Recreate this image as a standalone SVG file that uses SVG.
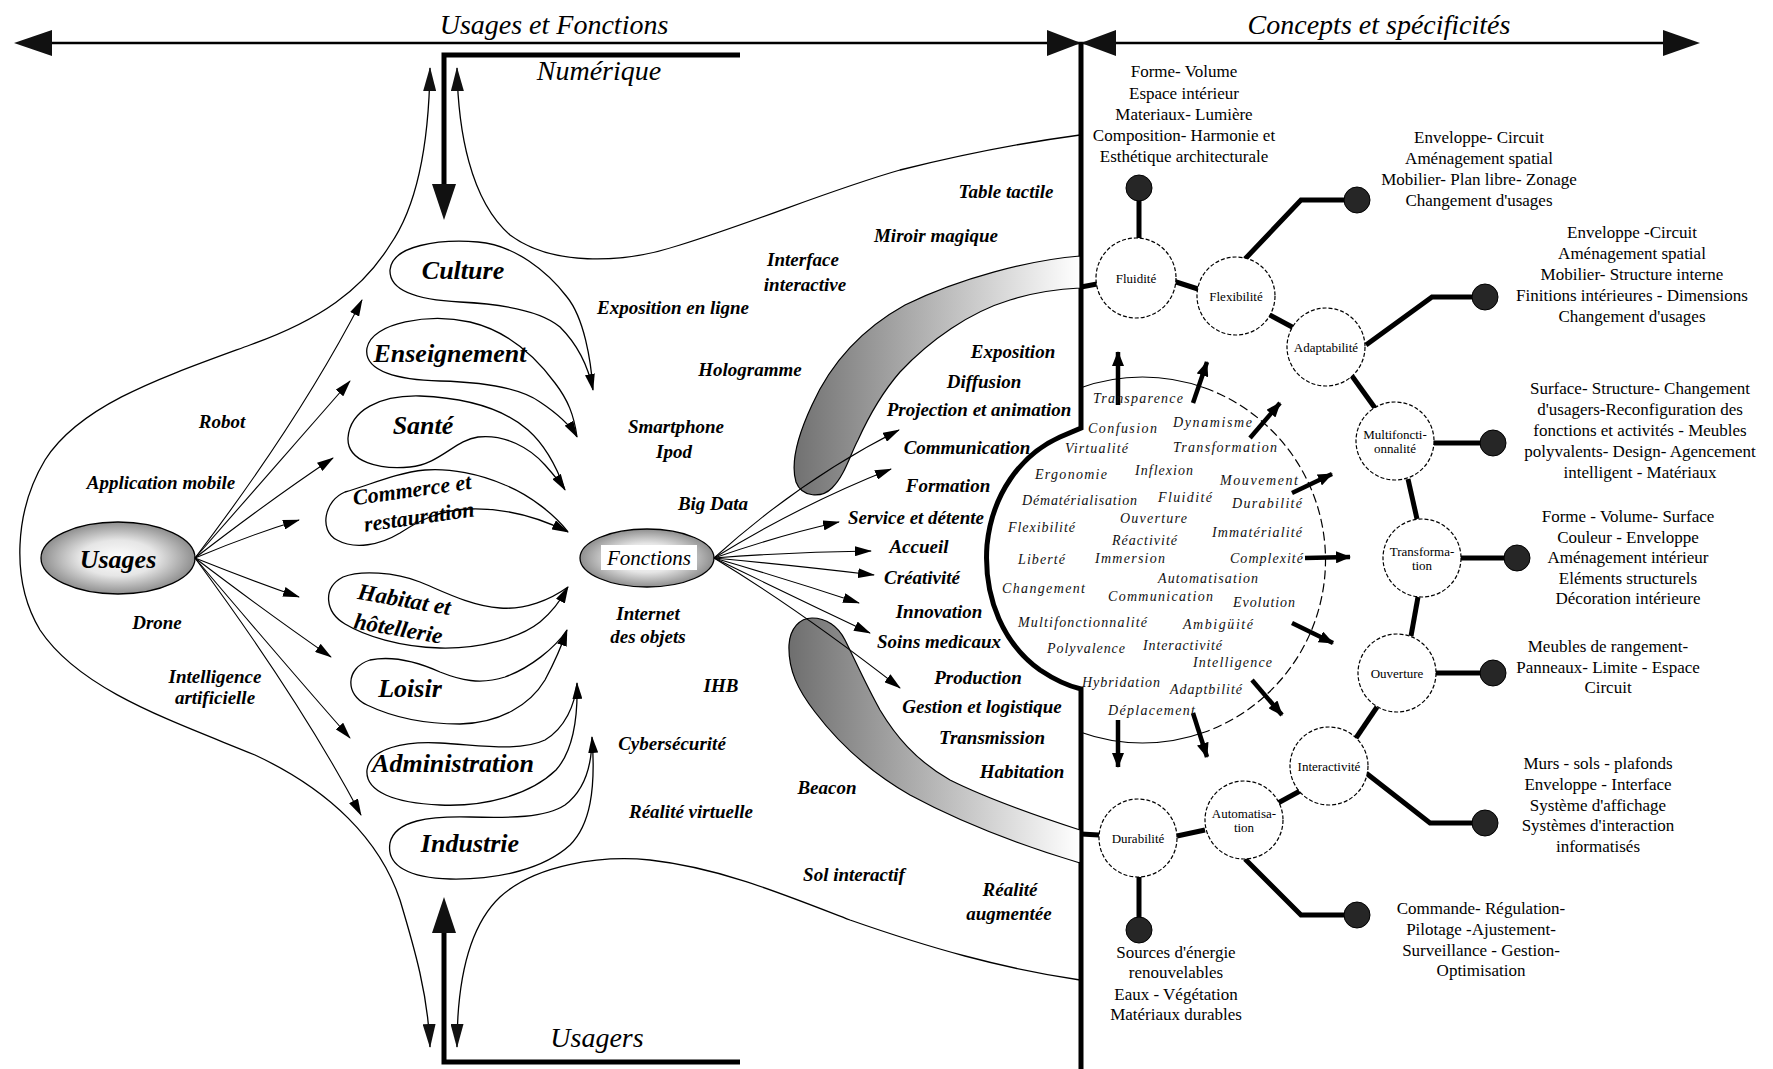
<svg xmlns="http://www.w3.org/2000/svg" width="1773" height="1069" viewBox="0 0 1773 1069">
  <defs>
    <style>
      text { font-family: "Liberation Serif", "Times New Roman", serif; fill: #000; }
      .hd { font-style: italic; font-size: 28px; }
      .sec { font-style: italic; font-weight: bold; font-size: 26px; text-anchor: middle; }
      .lb { font-style: italic; font-weight: bold; font-size: 19px; text-anchor: middle; }
      .fn { font-style: italic; font-weight: bold; font-size: 19px; text-anchor: middle; }
      .iw { font-style: italic; font-size: 14px; fill: #111; }
      .cl { font-size: 13px; text-anchor: middle; }
      .bk { font-size: 17px; text-anchor: middle; }
      .thin { fill: none; stroke: #000; stroke-width: 1.3; }
      .loop { fill: none; stroke: #000; stroke-width: 1.3; marker-end: url(#ah); }
      .fan { fill: none; stroke: #000; stroke-width: 1.1; marker-end: url(#ah); }
      .thick { fill: none; stroke: #000; stroke-width: 5; }
      .tarr { fill: none; stroke: #000; stroke-width: 4.5; marker-end: url(#aht); }
      .node { fill: #fff; stroke: #000; stroke-width: 1.2; stroke-dasharray: 4 2; }
      .dot { fill: #262626; stroke: #000; stroke-width: 1; }
    </style>
    <marker id="ah" markerUnits="userSpaceOnUse" markerWidth="17" markerHeight="10" viewBox="0 0 17 10" refX="16" refY="5" orient="auto">
      <path d="M0,0 L17,5 L0,10 Z" fill="#000"/>
    </marker>
    <marker id="ahl" markerUnits="userSpaceOnUse" markerWidth="24" markerHeight="13" viewBox="0 0 24 13" refX="23" refY="6.5" orient="auto-start-reverse">
      <path d="M0,0 L24,6.5 L0,13 Z" fill="#111"/>
    </marker>
    <marker id="aht" markerUnits="userSpaceOnUse" markerWidth="15" markerHeight="12" viewBox="0 0 15 12" refX="14" refY="6" orient="auto">
      <path d="M0,0 L15,6 L0,12 Z" fill="#000"/>
    </marker>
    <radialGradient id="egg" cx="50%" cy="50%" r="55%">
      <stop offset="0" stop-color="#ffffff"/>
      <stop offset="0.45" stop-color="#e6e6e6"/>
      <stop offset="1" stop-color="#7d7d7d"/>
    </radialGradient>
    <linearGradient id="band" gradientUnits="userSpaceOnUse" x1="790" y1="0" x2="1080" y2="0">
      <stop offset="0" stop-color="#6f6f6f"/>
      <stop offset="1" stop-color="#ffffff"/>
    </linearGradient>
    <radialGradient id="dotg" cx="40%" cy="35%" r="65%">
      <stop offset="0" stop-color="#555"/>
      <stop offset="1" stop-color="#111"/>
    </radialGradient>
  </defs>

  <rect width="1773" height="1069" fill="#fff"/>

  <!-- axes and brackets -->
  <g id="axes">
    <line x1="40" y1="43" x2="1675" y2="43" stroke="#000" stroke-width="2.5"/>
    <polygon points="14,43 52,30 52,56" fill="#111"/>
    <polygon points="1700,43 1663,30 1663,56" fill="#111"/>
    <polygon points="1081,43 1047,30 1047,56" fill="#111"/>
    <polygon points="1081,43 1116,30 1116,56" fill="#111"/>
    <text class="hd" x="554" y="34" text-anchor="middle">Usages et Fonctions</text>
    <text class="hd" x="1379" y="34" text-anchor="middle">Concepts et spécificités</text>
    <path d="M1081,43 V428 L1060,437 C1020,455 992,495 987,545 C983,600 1005,645 1040,670 C1055,680 1068,686 1081,689 V1069" fill="none" stroke="#000" stroke-width="5"/>
  </g>

  <g id="numerique">
    <polyline points="740,55 444,55 444,190" fill="none" stroke="#000" stroke-width="5"/>
    <polygon points="444,220 432,184 456,184" fill="#111"/>
    <text class="hd" x="599" y="80" text-anchor="middle">Numérique</text>
  </g>
  <g id="usagers">
    <polyline points="740,1062 444,1062 444,925" fill="none" stroke="#000" stroke-width="5"/>
    <polygon points="444,897 432,933 456,933" fill="#111"/>
    <text class="hd" x="597" y="1047" text-anchor="middle">Usagers</text>
  </g>

  <!-- outer envelope curves -->
  <g id="envelope">
    <path class="thin" marker-start="url(#ahl)" marker-end="url(#ahl)" d="M430,68 C429,140 418,205 390,245 C362,290 320,320 250,345 C160,378 80,405 45,460 C15,510 10,580 40,630 C80,690 170,720 255,755 C330,790 380,840 400,900 C415,950 428,995 430,1047"/>
    <path class="thin" marker-start="url(#ahl)" d="M457,68 C458,130 470,200 510,235 C550,265 620,265 680,245 C760,220 830,190 900,170 C960,155 1020,143 1080,135"/>
    <path class="thin" marker-start="url(#ahl)" d="M457,1047 C457,990 465,930 500,897 C535,865 600,855 650,860 C720,868 780,893 850,920 C930,948 1000,968 1080,980"/>
  </g>

  <!-- grey bands -->
  <g id="bands">
    <path d="M1080,256 C1030,260 960,278 905,305 C860,330 830,365 812,405 C798,435 790,462 796,482 C802,498 822,498 832,488 C845,475 850,455 858,440 C868,418 880,395 900,372 C930,340 970,312 1010,300 C1035,292 1060,289 1080,288 Z" fill="url(#band)" stroke="#000" stroke-width="1.2"/>
    <path d="M812,618 C800,618 790,628 789,645 C788,670 798,690 815,712 C840,745 870,772 910,795 C960,822 1020,845 1080,863 L1080,830 C1040,817 990,800 950,780 C915,760 895,735 880,710 C866,685 855,660 845,640 C838,626 826,618 812,618 Z" fill="url(#band)" stroke="#000" stroke-width="1.2"/>
  </g>

  <!-- central hubs -->
  <g id="usages">
    <ellipse cx="118" cy="558" rx="77" ry="36" fill="url(#egg)" stroke="#000" stroke-width="1.3"/>
    <text x="118" y="568" text-anchor="middle" style="font-style:italic;font-weight:bold;font-size:26px">Usages</text>
  </g>
  <g id="fonctions">
    <ellipse cx="647" cy="558" rx="67" ry="29" fill="url(#egg)" stroke="#000" stroke-width="1.3"/>
    <rect x="601" y="545" width="96" height="25" fill="#fff"/>
    <text x="649" y="565" text-anchor="middle" style="font-style:italic;font-size:21px">Fonctions</text>
  </g>

  <!-- connectors: fans, outward arrows and concept chain -->
  <g id="connectors">
    <path class="fan" d="M195,558 Q300,420 362,300"/>
    <path class="fan" d="M195,558 Q290,450 350,381"/>
    <path class="fan" d="M195,558 Q270,500 333,458"/>
    <path class="fan" d="M195,558 Q250,535 299,520"/>
    <path class="fan" d="M195,558 Q250,580 299,597"/>
    <path class="fan" d="M195,558 Q270,615 331,657"/>
    <path class="fan" d="M195,558 Q290,670 350,738"/>
    <path class="fan" d="M195,558 Q300,700 361,815"/>

    <path class="fan" d="M714,558 Q800,480 899,430"/>
    <path class="fan" d="M714,558 Q800,505 891,469"/>
    <path class="fan" d="M714,558 Q780,535 839,522"/>
    <path class="fan" d="M714,558 Q790,552 871,551"/>
    <path class="fan" d="M714,558 Q790,565 874,575"/>
    <path class="fan" d="M714,558 Q790,580 859,603"/>
    <path class="fan" d="M714,558 Q790,595 870,633"/>
    <path class="fan" d="M714,558 Q800,610 900,688"/>

    <!-- inner-circle outward arrows -->
    <path class="tarr" d="M1118,405 L1118,352"/>
    <path class="tarr" d="M1193,403 L1207,362"/>
    <path class="tarr" d="M1250,438 L1280,403"/>
    <path class="tarr" d="M1292,493 L1332,474"/>
    <path class="tarr" d="M1305,558 L1350,557"/>
    <path class="tarr" d="M1292,623 L1333,643"/>
    <path class="tarr" d="M1252,680 L1282,715"/>
    <path class="tarr" d="M1193,713 L1207,757"/>
    <path class="tarr" d="M1118,720 L1118,767"/>

    <!-- concept chain -->
    <line class="thick" x1="1081" y1="287" x2="1097" y2="284"/>
    <line class="thick" x1="1173" y1="281" x2="1198" y2="289"/>
    <line class="thick" x1="1268" y1="314" x2="1294" y2="328"/>
    <line class="thick" x1="1352" y1="376" x2="1375" y2="408"/>
    <line class="thick" x1="1408" y1="479" x2="1417" y2="519"/>
    <line class="thick" x1="1418" y1="597" x2="1411" y2="636"/>
    <line class="thick" x1="1377" y1="707" x2="1356" y2="738"/>
    <line class="thick" x1="1300" y1="791" x2="1278" y2="803"/>
    <line class="thick" x1="1205" y1="830" x2="1177" y2="836"/>
    <line class="thick" x1="1099" y1="835" x2="1081" y2="834"/>

    <line class="thick" x1="1139" y1="238" x2="1139" y2="195"/>
    <polyline class="thick" points="1245,259 1301,200 1350,200"/>
    <polyline class="thick" points="1366,345 1432,297 1478,297"/>
    <line class="thick" x1="1434" y1="443" x2="1485" y2="443"/>
    <line class="thick" x1="1461" y1="558" x2="1508" y2="558"/>
    <line class="thick" x1="1436" y1="673" x2="1485" y2="673"/>
    <polyline class="thick" points="1366,773 1430,823 1478,823"/>
    <polyline class="thick" points="1245,859 1301,915 1350,915"/>
    <line class="thick" x1="1139" y1="877" x2="1139" y2="922"/>
  </g>

  <!-- sector loops -->
  <g id="culture">
    <path class="loop" d="M593,390 C591,360 584,318 567,297 C548,272 515,245 478,242 C440,239 392,245 390,270 C389,292 420,300 460,302 C500,304 540,310 560,327 C578,345 588,365 593,390"/>
    <text class="sec" x="463" y="279">Culture</text>
  </g>
  <g id="enseignement">
    <path class="loop" d="M577,437 C574,415 568,400 555,383 C538,360 512,332 470,322 C430,313 372,322 367,348 C363,372 400,380 440,381 C480,382 520,388 540,402 C558,414 570,425 577,437"/>
    <text class="sec" x="450" y="362">Enseignement</text>
  </g>
  <g id="sante">
    <path class="loop" d="M565,490 C556,465 545,445 528,430 C505,410 470,398 420,396 C380,395 350,410 348,438 C347,462 380,470 410,467 C440,464 455,440 478,437 C505,434 530,448 545,465 C553,474 560,482 565,490"/>
    <text class="sec" x="423" y="434">Santé</text>
  </g>
  <g id="commerce">
    <path class="loop" d="M568,532 C555,515 530,495 505,485 C480,474 450,468 425,470 C395,473 370,485 345,492 C325,500 318,530 337,540 C355,550 380,545 400,533 C420,520 440,510 470,509 C505,508 540,518 568,532"/>
    <text class="sec" style="font-size:22px" transform="translate(413,497) rotate(-8)">Commerce et</text>
    <text class="sec" style="font-size:22px" transform="translate(420,524) rotate(-8)">restauration</text>
  </g>
  <g id="habitat">
    <path class="loop" d="M568,587 C550,600 525,610 500,608 C470,606 440,590 420,582 C395,572 360,570 343,577 C322,588 325,612 345,624 C365,636 400,647 440,648 C480,649 520,638 540,622 C552,612 561,600 568,587"/>
    <text class="sec" style="font-size:23px" transform="translate(403,607) rotate(10)">Habitat et</text>
    <text class="sec" style="font-size:23px" transform="translate(397,636) rotate(10)">hôtellerie</text>
  </g>
  <g id="loisir">
    <path class="loop" d="M567,630 C555,648 530,668 505,677 C480,685 460,680 440,672 C420,663 395,655 370,660 C345,668 345,695 367,705 C390,716 420,724 460,724 C500,723 530,705 545,680 C553,665 561,648 567,630"/>
    <text class="sec" x="410" y="697">Loisir</text>
  </g>
  <g id="administration">
    <path class="loop" d="M577,683 C575,705 565,728 545,740 C520,752 480,745 440,743 C405,741 370,748 367,770 C365,792 395,803 440,805 C485,807 530,795 556,770 C572,752 578,720 577,683"/>
    <text class="sec" x="453" y="772">Administration</text>
  </g>
  <g id="industrie">
    <path class="loop" d="M592,737 C592,765 585,790 565,805 C545,818 510,818 470,817 C430,816 395,820 390,843 C386,866 410,878 450,879 C500,880 545,868 570,845 C590,825 596,790 592,737"/>
    <text class="sec" x="470" y="852">Industrie</text>
  </g>

  <!-- technologies -->
  <g id="technologies">
    <text class="lb" x="222" y="428">Robot</text>
    <text class="lb" x="161" y="489">Application mobile</text>
    <text class="lb" x="157" y="629">Drone</text>
    <text class="lb" x="215" y="683">Intelligence</text>
    <text class="lb" x="215" y="704">artificielle</text>
    <text class="lb" x="673" y="314">Exposition en ligne</text>
    <text class="lb" x="803" y="266">Interface</text>
    <text class="lb" x="805" y="291">interactive</text>
    <text class="lb" x="936" y="242">Miroir magique</text>
    <text class="lb" x="1006" y="198">Table tactile</text>
    <text class="lb" x="750" y="376">Hologramme</text>
    <text class="lb" x="676" y="433">Smartphone</text>
    <text class="lb" x="674" y="458">Ipod</text>
    <text class="lb" x="713" y="510">Big Data</text>
    <text class="lb" x="648" y="620">Internet</text>
    <text class="lb" x="648" y="643">des objets</text>
    <text class="lb" x="721" y="692">IHB</text>
    <text class="lb" x="672" y="750">Cybersécurité</text>
    <text class="lb" x="691" y="818">Réalité virtuelle</text>
    <text class="lb" x="827" y="794">Beacon</text>
    <text class="lb" x="854" y="881">Sol interactif</text>
    <text class="lb" x="1010" y="896">Réalité</text>
    <text class="lb" x="1009" y="920">augmentée</text>
  </g>

  <!-- functions -->
  <g id="functions">
    <text class="fn" x="1013" y="358">Exposition</text>
    <text class="fn" x="984" y="388">Diffusion</text>
    <text class="fn" x="979" y="416">Projection et animation</text>
    <text class="fn" x="967" y="454">Communication</text>
    <text class="fn" x="948" y="492">Formation</text>
    <text class="fn" x="916" y="524">Service et détente</text>
    <text class="fn" x="919" y="553">Accueil</text>
    <text class="fn" x="922" y="584">Créativité</text>
    <text class="fn" x="939" y="618">Innovation</text>
    <text class="fn" x="939" y="648">Soins medicaux</text>
    <text class="fn" x="978" y="684">Production</text>
    <text class="fn" x="982" y="713">Gestion et logistique</text>
    <text class="fn" x="992" y="744">Transmission</text>
    <text class="fn" x="1022" y="778">Habitation</text>
  </g>

  <!-- concept field -->
  <g id="concept-field">
    <path d="M1080,388 A183,183 0 0 1 1205,388" fill="none" stroke="#000" stroke-width="1.2"/>
    <path d="M1205,388 A183,183 0 0 1 1205,732" fill="none" stroke="#000" stroke-width="1.2" stroke-dasharray="9 4"/>
    <path d="M1205,732 A183,183 0 0 1 1080,732" fill="none" stroke="#000" stroke-width="1.2"/>
    <text class="iw" x="1093" y="403" textLength="90">Transparence</text>
    <text class="iw" x="1088" y="433" textLength="69">Confusion</text>
    <text class="iw" x="1173" y="427" textLength="79">Dynamisme</text>
    <text class="iw" x="1065" y="453" textLength="63">Virtualité</text>
    <text class="iw" x="1173" y="452" textLength="104">Transformation</text>
    <text class="iw" x="1035" y="479" textLength="72">Ergonomie</text>
    <text class="iw" x="1135" y="475" textLength="58">Inflexion</text>
    <text class="iw" x="1220" y="485" textLength="78">Mouvement</text>
    <text class="iw" x="1022" y="505" textLength="115">Dématérialisation</text>
    <text class="iw" x="1158" y="502" textLength="54">Fluidité</text>
    <text class="iw" x="1232" y="508" textLength="70">Durabilité</text>
    <text class="iw" x="1120" y="523" textLength="67">Ouverture</text>
    <text class="iw" x="1008" y="532" textLength="67">Flexibilité</text>
    <text class="iw" x="1112" y="545" textLength="65">Réactivité</text>
    <text class="iw" x="1212" y="537" textLength="90">Immatérialité</text>
    <text class="iw" x="1018" y="564" textLength="47">Liberté</text>
    <text class="iw" x="1095" y="563" textLength="70">Immersion</text>
    <text class="iw" x="1230" y="563" textLength="73">Complexité</text>
    <text class="iw" x="1158" y="583" textLength="100">Automatisation</text>
    <text class="iw" x="1002" y="593" textLength="83">Changement</text>
    <text class="iw" x="1108" y="601" textLength="105">Communication</text>
    <text class="iw" x="1233" y="607" textLength="62">Evolution</text>
    <text class="iw" x="1018" y="627" textLength="129">Multifonctionnalité</text>
    <text class="iw" x="1183" y="629" textLength="70">Ambigüité</text>
    <text class="iw" x="1047" y="653" textLength="78">Polyvalence</text>
    <text class="iw" x="1143" y="650" textLength="79">Interactivité</text>
    <text class="iw" x="1193" y="667" textLength="79">Intelligence</text>
    <text class="iw" x="1082" y="687" textLength="78">Hybridation</text>
    <text class="iw" x="1170" y="694" textLength="72">Adaptbilité</text>
    <text class="iw" x="1108" y="715" textLength="87">Déplacement</text>
  </g>

  <!-- concept nodes -->
  <g id="fluidite">
    <circle class="node" cx="1136" cy="278" r="40"/>
    <text class="cl" x="1136" y="283">Fluidité</text>
    <circle class="dot" fill="url(#dotg)" cx="1139" cy="188" r="13"/>
    <text class="bk" x="1184" y="77">Forme- Volume</text>
    <text class="bk" x="1184" y="99">Espace intérieur</text>
    <text class="bk" x="1184" y="120">Materiaux- Lumière</text>
    <text class="bk" x="1184" y="141">Composition- Harmonie et</text>
    <text class="bk" x="1184" y="162">Esthétique architecturale</text>
  </g>
  <g id="flexibilite">
    <circle class="node" cx="1236" cy="296" r="39"/>
    <text class="cl" x="1236" y="301">Flexibilité</text>
    <circle class="dot" fill="url(#dotg)" cx="1357" cy="200" r="13"/>
    <text class="bk" x="1479" y="143">Enveloppe- Circuit</text>
    <text class="bk" x="1479" y="164">Aménagement spatial</text>
    <text class="bk" x="1479" y="185">Mobilier- Plan libre- Zonage</text>
    <text class="bk" x="1479" y="206">Changement d'usages</text>
  </g>
  <g id="adaptabilite">
    <circle class="node" cx="1326" cy="347" r="39"/>
    <text class="cl" x="1326" y="352">Adaptabilité</text>
    <circle class="dot" fill="url(#dotg)" cx="1485" cy="297" r="13"/>
    <text class="bk" x="1632" y="238">Enveloppe -Circuit</text>
    <text class="bk" x="1632" y="259">Aménagement spatial</text>
    <text class="bk" x="1632" y="280">Mobilier- Structure interne</text>
    <text class="bk" x="1632" y="301">Finitions intérieures - Dimensions</text>
    <text class="bk" x="1632" y="322">Changement d'usages</text>
  </g>
  <g id="multifonctionnalite">
    <circle class="node" cx="1395" cy="441" r="39"/>
    <text class="cl" x="1395" y="439">Multifoncti-</text>
    <text class="cl" x="1395" y="453">onnalité</text>
    <circle class="dot" fill="url(#dotg)" cx="1493" cy="443" r="13"/>
    <text class="bk" x="1640" y="394">Surface- Structure- Changement</text>
    <text class="bk" x="1640" y="415">d'usagers-Reconfiguration des</text>
    <text class="bk" x="1640" y="436">fonctions et activités - Meubles</text>
    <text class="bk" x="1640" y="457">polyvalents- Design-  Agencement</text>
    <text class="bk" x="1640" y="478">intelligent - Matériaux</text>
  </g>
  <g id="transformation">
    <circle class="node" cx="1422" cy="558" r="39"/>
    <text class="cl" x="1422" y="556">Transforma-</text>
    <text class="cl" x="1422" y="570">tion</text>
    <circle class="dot" fill="url(#dotg)" cx="1517" cy="558" r="13"/>
    <text class="bk" x="1628" y="522">Forme - Volume- Surface</text>
    <text class="bk" x="1628" y="543">Couleur - Enveloppe</text>
    <text class="bk" x="1628" y="563">Aménagement intérieur</text>
    <text class="bk" x="1628" y="584">Eléments structurels</text>
    <text class="bk" x="1628" y="604">Décoration intérieure</text>
  </g>
  <g id="ouverture">
    <circle class="node" cx="1397" cy="673" r="39"/>
    <text class="cl" x="1397" y="678">Ouverture</text>
    <circle class="dot" fill="url(#dotg)" cx="1493" cy="673" r="13"/>
    <text class="bk" x="1608" y="652">Meubles de rangement-</text>
    <text class="bk" x="1608" y="673">Panneaux- Limite - Espace</text>
    <text class="bk" x="1608" y="693">Circuit</text>
  </g>
  <g id="interactivite">
    <circle class="node" cx="1329" cy="766" r="39"/>
    <text class="cl" x="1329" y="771">Interactivité</text>
    <circle class="dot" fill="url(#dotg)" cx="1485" cy="823" r="13"/>
    <text class="bk" x="1598" y="769">Murs - sols - plafonds</text>
    <text class="bk" x="1598" y="790">Enveloppe - Interface</text>
    <text class="bk" x="1598" y="811">Système d'affichage</text>
    <text class="bk" x="1598" y="831">Systèmes d'interaction</text>
    <text class="bk" x="1598" y="852">informatisés</text>
  </g>
  <g id="automatisation">
    <circle class="node" cx="1244" cy="820" r="39"/>
    <text class="cl" x="1244" y="818">Automatisa-</text>
    <text class="cl" x="1244" y="832">tion</text>
    <circle class="dot" fill="url(#dotg)" cx="1357" cy="915" r="13"/>
    <text class="bk" x="1481" y="914">Commande- Régulation-</text>
    <text class="bk" x="1481" y="935">Pilotage -Ajustement-</text>
    <text class="bk" x="1481" y="956">Surveillance - Gestion-</text>
    <text class="bk" x="1481" y="976">Optimisation</text>
  </g>
  <g id="durabilite">
    <circle class="node" cx="1138" cy="838" r="39"/>
    <text class="cl" x="1138" y="843">Durabilité</text>
    <circle class="dot" fill="url(#dotg)" cx="1139" cy="930" r="13"/>
    <text class="bk" x="1176" y="958">Sources d'énergie</text>
    <text class="bk" x="1176" y="978">renouvelables</text>
    <text class="bk" x="1176" y="1000">Eaux - Végétation</text>
    <text class="bk" x="1176" y="1020">Matériaux durables</text>
  </g>
</svg>
